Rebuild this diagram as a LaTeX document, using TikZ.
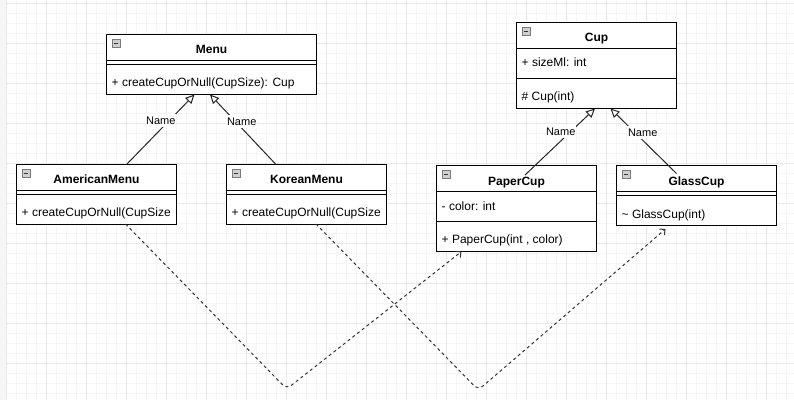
\documentclass[tikz,border=0pt]{standalone}
\usepackage{fontspec}
\setmainfont{Liberation Sans}
\usetikzlibrary{arrows.meta}
\definecolor{minorg}{HTML}{F5F5F5}
\definecolor{majorg}{HTML}{E8E8E8}
\definecolor{strip}{HTML}{F6F6F6}
\definecolor{depc}{HTML}{333333}
\definecolor{iconfill}{HTML}{CFCFCF}
\definecolor{iconline}{HTML}{7A7A7A}
\newcommand\clsicon[1]{%
  \draw[iconline, fill=iconfill, line width=0.8pt] ([xshift=5.5pt,yshift=-4.8pt]#1.north west) rectangle ++(8,8);
  \draw[black!80, line width=1pt] ([xshift=7.3pt,yshift=-8.8pt]#1.north west) -- ++(4.5,0);
}
\begin{document}
\begin{tikzpicture}[x=1pt,y=-1pt,
  cls/.style={draw=black, fill=white, line width=1pt, inner sep=0pt, outer sep=0pt, anchor=north west},
  cline/.style={draw=black, line width=1pt},
  ttl/.style={font=\fontsize{12}{14}\selectfont\bfseries, anchor=base, inner sep=0pt},
  mem/.style={font=\fontsize{12}{14}\selectfont, anchor=base west, inner sep=0pt},
  lbl/.style={font=\fontsize{11}{13}\selectfont, fill=white, inner xsep=1pt, inner ysep=2.5pt, text height=8pt, text depth=0pt},
  gen/.style={draw=black!85, line width=1pt, -{Triangle[open, length=9pt, width=8.5pt, fill=white]}},
  dep/.style={draw=depc, line width=1pt, dash pattern=on 3pt off 3pt, rounded corners=6pt, -{Straight Barb[length=4pt, width=8pt]}}
]
% background and grid
\fill[white] (0,0) rectangle (794,400);
\useasboundingbox (0,0) rectangle (794,400);
\foreach \x in {16.5,26.5,...,794} \draw[minorg, line width=1pt] (\x,0) -- (\x,400);
\foreach \y in {13.3,23.3,...,400} \draw[minorg, line width=1pt] (0,\y) -- (794,\y);
\foreach \x in {6.5,46.5,...,794} \draw[majorg, line width=1pt] (\x,0) -- (\x,400);
\foreach \y in {3.3,43.3,...,400} \draw[majorg, line width=1pt] (0,\y) -- (794,\y);
\fill[strip] (0,0) rectangle (6,400);

% Menu
\node[cls, minimum width=210pt, minimum height=60pt] (menu) at (106.5,34.5) {};
\draw[cline] ([yshift=-25.5pt]menu.north west) -- ([yshift=-25.5pt]menu.north east);
\draw[cline] ([yshift=-29.5pt]menu.north west) -- ([yshift=-29.5pt]menu.north east);
\clsicon{menu}
\node[ttl] (menuT) at ([yshift=-19pt]menu.north) {Menu};
\node[mem] (menuM) at ([xshift=5pt,yshift=-52pt]menu.north west) {+ createCupOrNull(CupSize): Cup};

% Cup
\node[cls, minimum width=160pt, minimum height=86pt] (cup) at (516.5,22.5) {};
\draw[cline] ([yshift=-26pt]cup.north west) -- ([yshift=-26pt]cup.north east);
\draw[cline] ([yshift=-56pt]cup.north west) -- ([yshift=-56pt]cup.north east);
\clsicon{cup}
\node[ttl] (cupT) at ([yshift=-19pt]cup.north) {Cup};
\node[mem] (cupA) at ([xshift=5pt,yshift=-44pt]cup.north west) {+ sizeMl: int};
\node[mem] (cupM) at ([xshift=5pt,yshift=-78pt]cup.north west) {\# Cup(int)};

% AmericanMenu
\node[cls, minimum width=160pt, minimum height=59.5pt] (am) at (16.5,164.5) {};
\draw[cline] ([yshift=-25.5pt]am.north west) -- ([yshift=-25.5pt]am.north east);
\draw[cline] ([yshift=-29.5pt]am.north west) -- ([yshift=-29.5pt]am.north east);
\clsicon{am}
\node[ttl] (amT) at ([yshift=-19pt]am.north) {AmericanMenu};
\node[mem] (amM) at ([xshift=5pt,yshift=-52pt]am.north west) {+ createCupOrNull(CupSize};

% KoreanMenu
\node[cls, minimum width=160pt, minimum height=59.5pt] (kr) at (226.5,164.5) {};
\draw[cline] ([yshift=-25.5pt]kr.north west) -- ([yshift=-25.5pt]kr.north east);
\draw[cline] ([yshift=-29.5pt]kr.north west) -- ([yshift=-29.5pt]kr.north east);
\clsicon{kr}
\node[ttl] (krT) at ([yshift=-19pt]kr.north) {KoreanMenu};
\node[mem] (krM) at ([xshift=5pt,yshift=-52pt]kr.north west) {+ createCupOrNull(CupSize};

% PaperCup
\node[cls, minimum width=160pt, minimum height=86pt] (pc) at (436.5,165.5) {};
\draw[cline] ([yshift=-26pt]pc.north west) -- ([yshift=-26pt]pc.north east);
\draw[cline] ([yshift=-56pt]pc.north west) -- ([yshift=-56pt]pc.north east);
\clsicon{pc}
\node[ttl] (pcT) at ([yshift=-19.5pt]pc.north) {PaperCup};
\node[mem] (pcA) at ([xshift=5pt,yshift=-44.5pt]pc.north west) {- color: int};
\node[mem] (pcM) at ([xshift=5pt,yshift=-77.5pt]pc.north west) {+ PaperCup(int , color)};

% GlassCup
\node[cls, minimum width=160pt, minimum height=59.5pt] (gc) at (616.5,165.5) {};
\draw[cline] ([yshift=-26pt]gc.north west) -- ([yshift=-26pt]gc.north east);
\draw[cline] ([yshift=-30pt]gc.north west) -- ([yshift=-30pt]gc.north east);
\clsicon{gc}
\node[ttl] (gcT) at ([yshift=-19.5pt]gc.north) {GlassCup};
\node[mem] (gcM) at ([xshift=5pt,yshift=-52.5pt]gc.north west) {\textasciitilde{} GlassCup(int)};

% generalizations
\draw[gen] ([xshift=110pt]am.north west) -- ([xshift=88pt]menu.south west);
\draw[gen] ([xshift=49.5pt]kr.north west) -- ([xshift=103.5pt]menu.south west);
\draw[gen] ([xshift=88.5pt,yshift=-9.5pt]pc.north west) -- ([xshift=78.5pt]cup.south west);
\draw[gen] ([xshift=60pt,yshift=-8pt]gc.north west) -- ([xshift=94pt]cup.south west);
\node[lbl] (l1) at (160.8,120.7) {Name};
\node[lbl] (l2) at (241.7,121.3) {Name};
\node[lbl] (l3) at (560.7,131) {Name};
\node[lbl] (l4) at (642.7,132.3) {Name};

% dependencies
\coordinate (v1) at (286.7,389);
\coordinate (v2) at (478.3,390);
\draw[dep] ([xshift=109pt]am.south west) -- (v1) -- ([xshift=25pt]pc.south west);
\draw[dep] ([xshift=89.5pt]kr.south west) -- (v2) -- ([xshift=49pt,yshift=-4pt]gc.south west);
\end{tikzpicture}
\end{document}
